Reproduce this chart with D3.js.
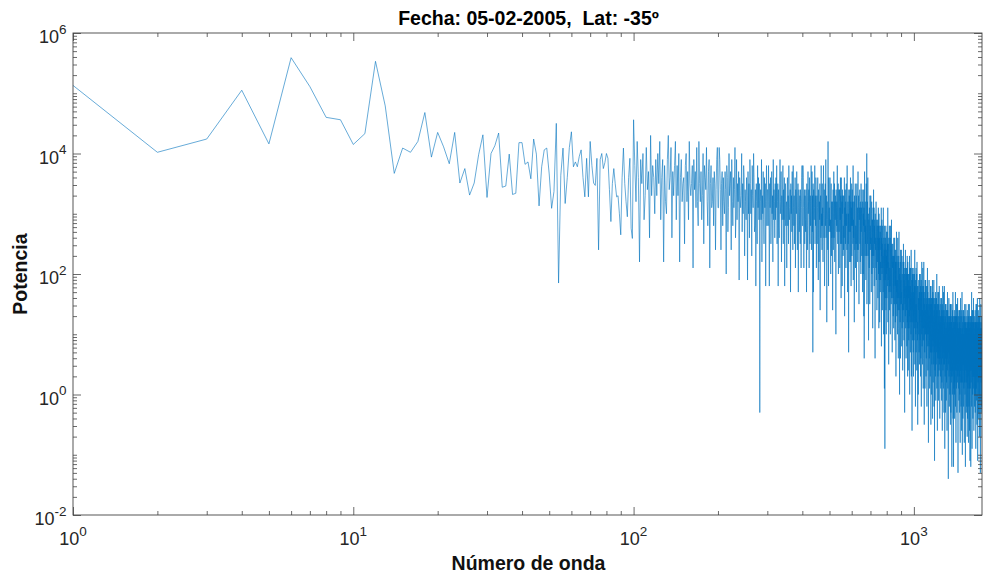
<!DOCTYPE html>
<html><head><meta charset="utf-8">
<script src="https://cdn.jsdelivr.net/npm/d3@7"></script>
<style>
html,body{margin:0;padding:0;background:#fff;}
svg{display:block;font-family:Arial,"Liberation Sans",Helvetica,sans-serif;}
</style></head><body>
<svg id="chart" width="983" height="574"></svg>
<script>
// ---------------- data ----------------
const titleText = "Fecha: 05-02-2005,  Lat: -35º";
const xLabelText = "Número de onda";
const yLabelText = "Potencia";
const xTickExponents = [0, 1, 2, 3];
const yTickExponents = [-2, 0, 2, 4, 6];
const xMax = 1750;

// log10(power) for wavenumbers 1..100
const lowWaveLogPower = [
 5.13, 4.02, 4.24, 5.05, 4.16, 5.59, 5.11, 4.60, 4.56, 4.15,
 4.33, 5.53, 4.79, 3.67, 4.09, 4.02, 4.20, 4.68, 3.94, 4.35,
 4.11, 3.83, 4.35, 3.51, 3.75, 3.31, 3.51, 3.98, 4.31, 3.27,
 4.00, 4.13, 4.34, 3.44, 3.46, 3.99, 3.32, 3.34, 4.18, 4.18,
 3.82, 3.86, 3.58, 4.24, 3.99, 3.13, 3.78, 4.06, 4.09, 3.66,
 3.09, 3.37, 4.50, 1.85, 3.64, 4.09, 3.17, 3.60, 4.10, 4.36,
 3.78, 3.86, 3.78, 3.95, 4.06, 3.60, 3.28, 3.92, 3.28, 4.20,
 3.80, 3.51, 3.47, 3.92, 2.40, 3.90, 4.00, 3.75, 3.85, 4.00,
 3.92, 3.40, 2.87, 3.50, 3.75, 3.50, 3.28, 3.30, 3.00, 2.65,
 3.60, 4.09, 3.50, 3.20, 2.95, 3.60, 3.92, 2.76, 2.59, 4.56
];

// wavenumbers 101..1750, each code = (log10(power) + 2) * 10, ten per line
const highWaveLogCodes = `
58 52 62 56 42 59 55 60 49 53
61 54 57 46 63 53 58 56 50 59
53 60 55 62 49 56 59 42 58 52
50 59 63 54 56 61 46 57 53 58
62 49 58 53 60 42 56 59 52 55
56 45 58 60 52 57 49 62 55 53
55 58 41 59 54 57 51 61 52 48
62 55 52 57 49 53 60 45 58 56
54 61 52 48 57 59 41 55 58 51
52 56 48 57 55 44 54 59 61 51
51 61 59 54 44 55 57 48 56 52
50 57 54 40 58 56 47 51 60 53
55 57 44 59 52 48 56 51 54 61
46 50 59 49 55 52 57 39 56 53
51 53 60 47 55 50 58 56 43 54
52 49 56 53 39 57 50 55 46 59
55 50 54 43 58 53 51 60 56 47
48 54 38 55 52 45 58 51 56 49
55 17 52 54 49 59 42 53 50 57
49 45 56 51 55 38 52 58 48 54
54 48 58 52 38 55 51 56 45 49
57 50 53 42 59 49 54 52 46 55
49 56 51 58 45 52 55 38 54 48
46 55 59 50 52 57 42 53 49 54
58 45 54 49 56 38 52 55 48 51
52 41 54 56 48 53 45 58 51 49
51 54 37 55 50 53 47 57 48 44
58 51 48 53 45 49 56 41 54 52
50 57 48 44 53 55 37 51 54 47
49 53 45 54 52 41 51 56 58 48
48 58 56 51 41 52 54 45 53 49
47 54 51 37 55 53 44 48 57 50
52 54 41 56 49 45 53 48 51 58
44 48 57 47 53 27 55 37 54 51
49 51 58 45 53 48 56 54 41 52
53 45 51 56 48 39 54 50 42 52
49 55 34 52 53 46 58 48 50 44
55 48 51 42 53 58 50 46 54 38
43 51 55 48 59 46 49 53 32 52
52 49 44 62 50 38 56 47 51 48
50 56 47 49 40 53 55 43 52 46
47 52 34 50 54 44 49 57 46 51
55 42 52 49 53 47 30 54 51 48
52 47 58 49 45 53 55 40 51 54
47 52 54 41 51 49 56 45 53 36
56 49 45 52 38 54 50 53 43 48
44 53 50 46 56 33 51 48 54 45
52 41 53 55 48 50 44 58 49 37
48 52 45 50 27 54 47 53 51 42
54 50 47 56 42 52 38 51 48 55
43 51 54 48 52 45 58 39 49 46
52 47 32 53 50 44 51 55 41 48
48 45 53 37 50 55 47 44 51 42
47 57 44 50 53 46 35 51 49 52
54 45 51 42 48 52 40 55 47 50
51 43 49 54 46 37 52 48 40 50
48 54 33 51 26 45 57 47 49 43
52 45 48 39 50 55 47 43 60 35
40 48 52 45 56 43 46 50 29 49
49 46 41 51 47 35 53 44 48 45
47 53 44 46 37 50 52 40 49 43
44 49 31 47 51 41 46 54 43 48
51 38 48 45 49 43 26 50 47 44
46 41 52 43 39 47 49 34 45 48
42 47 49 36 46 44 51 40 48 31
50 43 39 46 32 48 44 47 37 42
39 48 45 41 51 28 46 43 49 40
45 34 46 48 41 43 37 51 42 30
42 46 39 44 21 48 41 11 45 36
46 42 39 48 34 44 30 43 40 47
36 44 47 41 45 38 51 32 42 39
45 40 25 46 43 37 44 48 34 41
41 38 46 30 43 48 40 37 44 35
39 49 36 42 45 38 27 43 41 44
45 36 42 33 39 43 31 46 38 41
43 35 41 46 38 29 44 40 32 42
38 44 23 41 42 35 47 37 39 33
43 36 39 30 41 46 38 34 42 26
31 39 43 36 47 34 37 41 20 40
40 37 32 42 38 26 44 35 39 36
38 44 35 37 28 41 43 31 40 34
35 24 30 38 42 32 37 45 34 39
42 29 39 36 40 34 17 41 38 35
38 33 44 35 31 39 41 26 37 40
34 39 41 28 38 36 43 32 40 23
42 35 31 38 24 40 36 39 29 34
31 40 37 33 43 20 38 35 41 32
38 27 39 41 34 36 30 44 35 23
35 39 32 37 14 41 34 40 38 29
39 35 32 41 27 37 23 36 33 40
29 37 40 34 38 31 44 25 35 32
38 33 18 39 36 30 37 41 27 34
35 32 40 24 37 42 34 31 38 29
32 15 29 35 38 31 20 36 34 37
39 30 36 27 33 37 25 40 32 35
37 29 35 40 32 23 38 34 26 36
33 39 18 36 37 30 42 32 34 28
38 31 34 25 36 41 33 29 37 21
26 34 38 31 42 29 32 36 15 35
35 32 27 37 33 21 39 30 34 31
33 39 30 32 23 36 38 26 35 29
31 36 18 34 38 28 33 41 30 35
37 24 34 31 35 29 12 36 33 30
33 28 39 30 26 34 36 21 32 35
29 34 36 23 33 31 38 27 35 15
38 31 27 34 20 36 32 35 25 30
27 36 33 29 39 16 34 31 37 28
33 22 34 36 29 31 25 39 30 18
30 34 27 32 9 36 29 35 33 24
35 31 28 37 23 33 19 32 29 36
25 33 36 30 34 27 40 21 31 28
34 29 14 35 32 26 33 37 23 30
30 27 35 19 32 37 29 26 33 24
28 38 25 31 34 27 16 32 30 33
35 26 32 23 29 33 21 36 28 31
33 25 31 36 28 19 34 30 22 32
29 35 14 32 33 26 38 28 30 24
34 27 30 21 32 37 29 25 33 17
22 30 34 27 38 25 28 32 11 31
31 28 23 33 29 17 35 26 30 27
29 35 26 28 19 32 34 22 31 25
27 32 14 30 34 24 29 37 26 31
34 21 31 28 32 26 6 33 30 27
30 25 36 27 23 31 33 18 29 32
26 31 33 20 30 28 35 24 32 15
35 28 24 31 17 33 29 32 22 27
23 32 29 25 35 8 30 27 33 24
31 20 32 34 27 29 23 37 28 16
27 31 24 29 8 33 26 32 30 21
32 28 25 34 20 30 16 29 26 33
22 30 33 27 31 24 37 18 28 25
32 27 12 33 30 24 31 35 21 28
28 25 33 17 30 35 27 24 31 22
26 36 23 29 32 25 7 30 28 31
33 24 30 21 27 31 19 34 26 29
31 23 29 34 26 17 32 28 20 30
27 33 12 30 31 24 36 26 28 22
31 24 27 18 29 34 26 22 30 14
21 29 33 26 37 24 27 31 10 30
30 27 22 32 28 16 34 25 29 26
28 34 25 27 18 31 33 21 30 24
25 30 12 28 32 22 27 35 24 29
33 20 30 27 31 25 8 32 29 26
29 24 35 26 22 30 32 17 28 31
24 29 31 18 28 26 33 22 30 13
34 27 23 30 16 32 28 31 21 26
23 32 29 25 35 12 30 27 33 24
29 18 30 32 25 27 21 35 26 14
27 31 24 29 9 33 26 32 30 21
31 27 24 33 19 8 15 28 25 32
22 30 33 27 31 24 37 18 28 25
31 26 11 32 29 23 30 34 20 27
27 24 32 16 29 34 26 23 30 21
26 36 23 29 32 25 14 30 28 31
32 23 29 20 26 30 18 33 25 28
31 23 29 34 26 17 32 28 20 30
26 32 11 29 30 23 35 25 27 21
32 25 28 19 30 35 27 23 31 15
20 28 32 25 36 23 26 30 9 29
30 27 22 32 28 16 34 25 29 26
27 33 24 26 17 30 32 20 29 23
26 31 13 29 33 23 28 36 25 30
32 19 29 26 30 24 7 31 28 25
29 24 35 26 22 30 32 17 28 31
24 29 31 18 28 26 33 22 30 13
`;

// ---------------- build ----------------
const highWaveLogPower = highWaveLogCodes.trim().split(/\s+/).map(s => +s / 10 - 2);
const logPower = lowWaveLogPower.concat(highWaveLogPower);
const series = logPower.map((lp, i) => ({ k: i + 1, p: Math.pow(10, lp) }));

const M = { left: 73, right: 982, top: 33, bottom: 515 };
const svg = d3.select("#chart");

const x = d3.scaleLog().domain([1, xMax]).range([M.left, M.right]);
const y = d3.scaleLog().domain([1e-2, 1e6]).range([M.bottom, M.top]);

// tick values
const xMajor = xTickExponents.map(e => Math.pow(10, e));
const xMinor = [];
xTickExponents.forEach(e => { for (let m = 2; m <= 9; m++) { const v = m * Math.pow(10, e); if (v <= xMax) xMinor.push(v); } });
const yMajor = yTickExponents.map(e => Math.pow(10, e));
const yMinor = [];
for (let e = -2; e < 6; e++) {
  for (let m = 1; m <= 9; m++) {
    if (m === 1 && yTickExponents.includes(e)) continue;
    yMinor.push(m * Math.pow(10, e));
  }
}

// clip
svg.append("defs").append("clipPath").attr("id", "plotclip")
  .append("rect").attr("x", M.left).attr("y", M.top)
  .attr("width", M.right - M.left).attr("height", M.bottom - M.top);

// data line
const line = d3.line().x(d => x(d.k)).y(d => y(d.p));
svg.append("path")
  .datum(series)
  .attr("clip-path", "url(#plotclip)")
  .attr("fill", "none")
  .attr("stroke", "#0072BD")
  .attr("stroke-width", 0.6)
  .attr("stroke-linejoin", "round")
  .attr("d", line);

// axes (ticks inward)
const axisColor = "#444";
function styleAxis(g) {
  g.select(".domain").remove();
  g.selectAll(".tick line").attr("stroke", axisColor).attr("stroke-width", 0.8);
  g.selectAll(".tick text").remove();
}
const majorLen = 8, minorLen = 4;
svg.append("g").attr("transform", `translate(0,${M.bottom})`)
  .call(d3.axisBottom(x).tickValues(xMajor).tickSize(-majorLen).tickFormat("")).call(styleAxis);
svg.append("g").attr("transform", `translate(0,${M.bottom})`)
  .call(d3.axisBottom(x).tickValues(xMinor).tickSize(-minorLen).tickFormat("")).call(styleAxis);
svg.append("g").attr("transform", `translate(0,${M.top})`)
  .call(d3.axisTop(x).tickValues(xMajor).tickSize(-majorLen).tickFormat("")).call(styleAxis);
svg.append("g").attr("transform", `translate(0,${M.top})`)
  .call(d3.axisTop(x).tickValues(xMinor).tickSize(-minorLen).tickFormat("")).call(styleAxis);
svg.append("g").attr("transform", `translate(${M.left},0)`)
  .call(d3.axisLeft(y).tickValues(yMajor).tickSize(-majorLen).tickFormat("")).call(styleAxis);
svg.append("g").attr("transform", `translate(${M.left},0)`)
  .call(d3.axisLeft(y).tickValues(yMinor).tickSize(-minorLen).tickFormat("")).call(styleAxis);
svg.append("g").attr("transform", `translate(${M.right},0)`)
  .call(d3.axisRight(y).tickValues(yMajor).tickSize(-majorLen).tickFormat("")).call(styleAxis);
svg.append("g").attr("transform", `translate(${M.right},0)`)
  .call(d3.axisRight(y).tickValues(yMinor).tickSize(-minorLen).tickFormat("")).call(styleAxis);

// box
svg.append("rect")
  .attr("x", M.left).attr("y", M.top)
  .attr("width", M.right - M.left).attr("height", M.bottom - M.top)
  .attr("fill", "none").attr("stroke", axisColor).attr("stroke-width", 0.9);

// tick labels
const labColor = "#262626";
xTickExponents.forEach(e => {
  const t = svg.append("text")
    .attr("x", x(Math.pow(10, e))).attr("y", M.bottom + 29.5)
    .attr("text-anchor", "middle").attr("fill", labColor)
    .style("font-size", "18px").text("10");
  t.append("tspan").attr("dy", -9).style("font-size", "13.5px").text(e);
});
yTickExponents.forEach(e => {
  const t = svg.append("text")
    .attr("x", 66.5).attr("y", y(Math.pow(10, e)) + 10)
    .attr("text-anchor", "end").attr("fill", labColor)
    .style("font-size", "18px").text("10");
  t.append("tspan").attr("dy", -9.5).style("font-size", "13.5px").text(e);
});

// title & axis labels
svg.append("text")
  .attr("x", (M.left + M.right) / 2 + 1).attr("y", 25)
  .attr("text-anchor", "middle").attr("fill", "#000")
  .style("font-size", "19.5px").style("font-weight", "bold").style("white-space", "pre")
  .text(titleText);
svg.append("text")
  .attr("x", (M.left + M.right) / 2 + 1).attr("y", 570)
  .attr("text-anchor", "middle").attr("fill", "#111")
  .style("font-size", "19.5px").style("font-weight", "bold")
  .text(xLabelText);
svg.append("text")
  .attr("transform", `translate(27,${(M.top + M.bottom) / 2}) rotate(-90)`)
  .attr("text-anchor", "middle").attr("fill", "#111")
  .style("font-size", "19.5px").style("font-weight", "bold")
  .text(yLabelText);
</script>
</body></html>
